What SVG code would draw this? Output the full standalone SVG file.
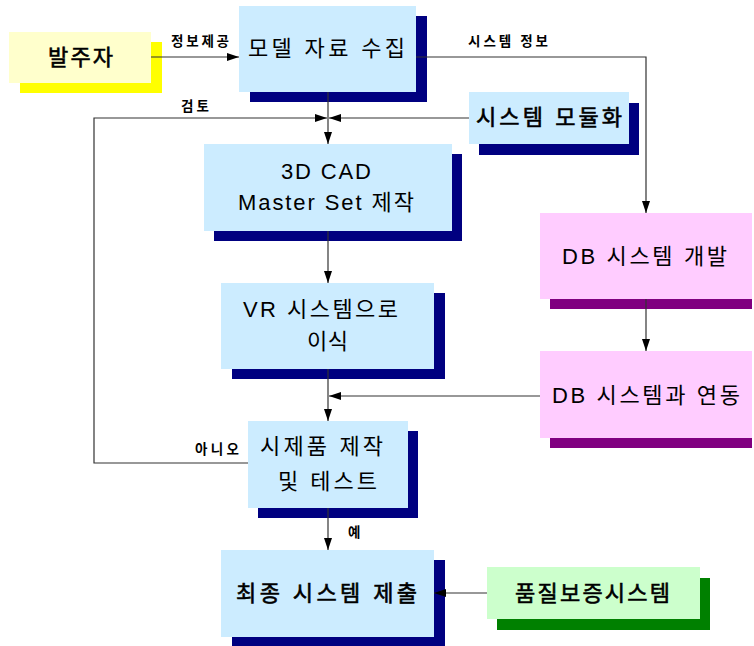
<svg xmlns="http://www.w3.org/2000/svg" width="754" height="646" viewBox="0 0 754 646">
<defs>
<style>
.t{font-family:"Liberation Sans","Noto Sans CJK KR",sans-serif;font-size:22px;fill:#000;text-anchor:start;dominant-baseline:central}
.b{stroke:#000;stroke-width:0.6}
.l{font-family:"Noto Sans CJK KR",sans-serif;font-size:13.5px;font-weight:bold;fill:#000;dominant-baseline:central}
.blue{fill:#CCECFF}
.navy{fill:#000080}
.pink{fill:#FFCCFF}
.purple{fill:#800080}
.c{fill:none;stroke:#333;stroke-width:1.2}
</style>
<marker id="ah" markerUnits="userSpaceOnUse" markerWidth="12" markerHeight="8" refX="12" refY="4" orient="auto">
<path d="M0,0 L12,4 L0,8 z" fill="#000"/>
</marker>
</defs>
<rect width="754" height="646" fill="#fff"/>

<g id="client">
<rect x="20" y="42" width="142" height="51" fill="#FFFF00"/>
<rect x="9" y="32" width="142" height="51" fill="#FFFFCC"/>
<text class="t b" x="48" y="57" textLength="65" lengthAdjust="spacing">발주자</text>
</g>

<g id="collect">
<rect class="navy" x="250" y="16" width="177" height="86"/>
<rect class="blue" x="239" y="6" width="177" height="86"/>
<text class="t" x="248" y="48" textLength="157" lengthAdjust="spacing">모델 자료 수집</text>
</g>

<g id="modular">
<rect class="navy" x="479" y="103" width="160" height="52"/>
<rect class="blue" x="469" y="92" width="160" height="52"/>
<text class="t b" x="476" y="117.5" textLength="146" lengthAdjust="spacing">시스템 모듈화</text>
</g>

<g id="cad">
<rect class="navy" x="214" y="154" width="248" height="87"/>
<rect class="blue" x="204" y="144" width="248" height="87"/>
<text class="t" x="281" y="171" textLength="90" lengthAdjust="spacing">3D CAD</text>
<text class="t" x="238" y="202" textLength="176" lengthAdjust="spacing">Master Set 제작</text>
</g>

<g id="vr">
<rect class="navy" x="232" y="293" width="213" height="86"/>
<rect class="blue" x="221" y="283" width="213" height="86"/>
<text class="t" x="243" y="309" textLength="155" lengthAdjust="spacing">VR 시스템으로</text>
<text class="t" x="307" y="341.5" textLength="41" lengthAdjust="spacing">이식</text>
</g>

<g id="prototype">
<rect class="navy" x="258" y="431" width="160" height="87"/>
<rect class="blue" x="248" y="421" width="160" height="87"/>
<text class="t" x="260" y="446" textLength="123" lengthAdjust="spacing">시제품 제작</text>
<text class="t" x="278" y="481.5" textLength="99" lengthAdjust="spacing">및 테스트</text>
</g>

<g id="final">
<rect class="navy" x="232" y="560" width="213" height="87"/>
<rect class="blue" x="221" y="550" width="213" height="87"/>
<text class="t b" x="236" y="593" textLength="181" lengthAdjust="spacing">최종 시스템 제출</text>
</g>

<g id="quality">
<rect x="497" y="578" width="213" height="52" fill="#008000"/>
<rect x="487" y="567" width="213" height="52" fill="#CCFFCC"/>
<text class="t b" x="515" y="593" textLength="155" lengthAdjust="spacing">품질보증시스템</text>
</g>

<g id="dbdev">
<rect class="purple" x="550" y="223" width="202" height="86"/>
<rect class="pink" x="540" y="213" width="212" height="86"/>
<text class="t" x="562" y="256.5" textLength="165" lengthAdjust="spacing">DB 시스템 개발</text>
</g>

<g id="dblink">
<rect class="purple" x="550" y="361" width="202" height="87"/>
<rect class="pink" x="540" y="351" width="212" height="87"/>
<text class="t" x="552" y="395" textLength="188" lengthAdjust="spacing">DB 시스템과 연동</text>
</g>

<g id="connectors">
<path class="c" d="M151,57 H239" marker-end="url(#ah)"/>
<path class="c" d="M416,57 H646 V213" marker-end="url(#ah)"/>
<path class="c" d="M328,92 V144" marker-end="url(#ah)"/>
<path class="c" d="M469,118 H329" marker-end="url(#ah)"/>
<path class="c" d="M248,463 H94 V118 H327" marker-end="url(#ah)"/>
<path class="c" d="M328,231 V283" marker-end="url(#ah)"/>
<path class="c" d="M328,369 V421" marker-end="url(#ah)"/>
<path class="c" d="M646,299 V351" marker-end="url(#ah)"/>
<path class="c" d="M540,396 H329" marker-end="url(#ah)"/>
<path class="c" d="M328,508 V550" marker-end="url(#ah)"/>
<path class="c" d="M487,593 H434" marker-end="url(#ah)"/>
</g>

<g id="labels">
<text class="l" x="171" y="39.5" textLength="58" lengthAdjust="spacing">정보제공</text>
<text class="l" x="468" y="39.5" textLength="80" lengthAdjust="spacing">시스템 정보</text>
<text class="l" x="181" y="105" textLength="28" lengthAdjust="spacing">검토</text>
<text class="l" x="195" y="447.5" textLength="44" lengthAdjust="spacing">아니오</text>
<text class="l" x="348" y="531">예</text>
</g>
</svg>
